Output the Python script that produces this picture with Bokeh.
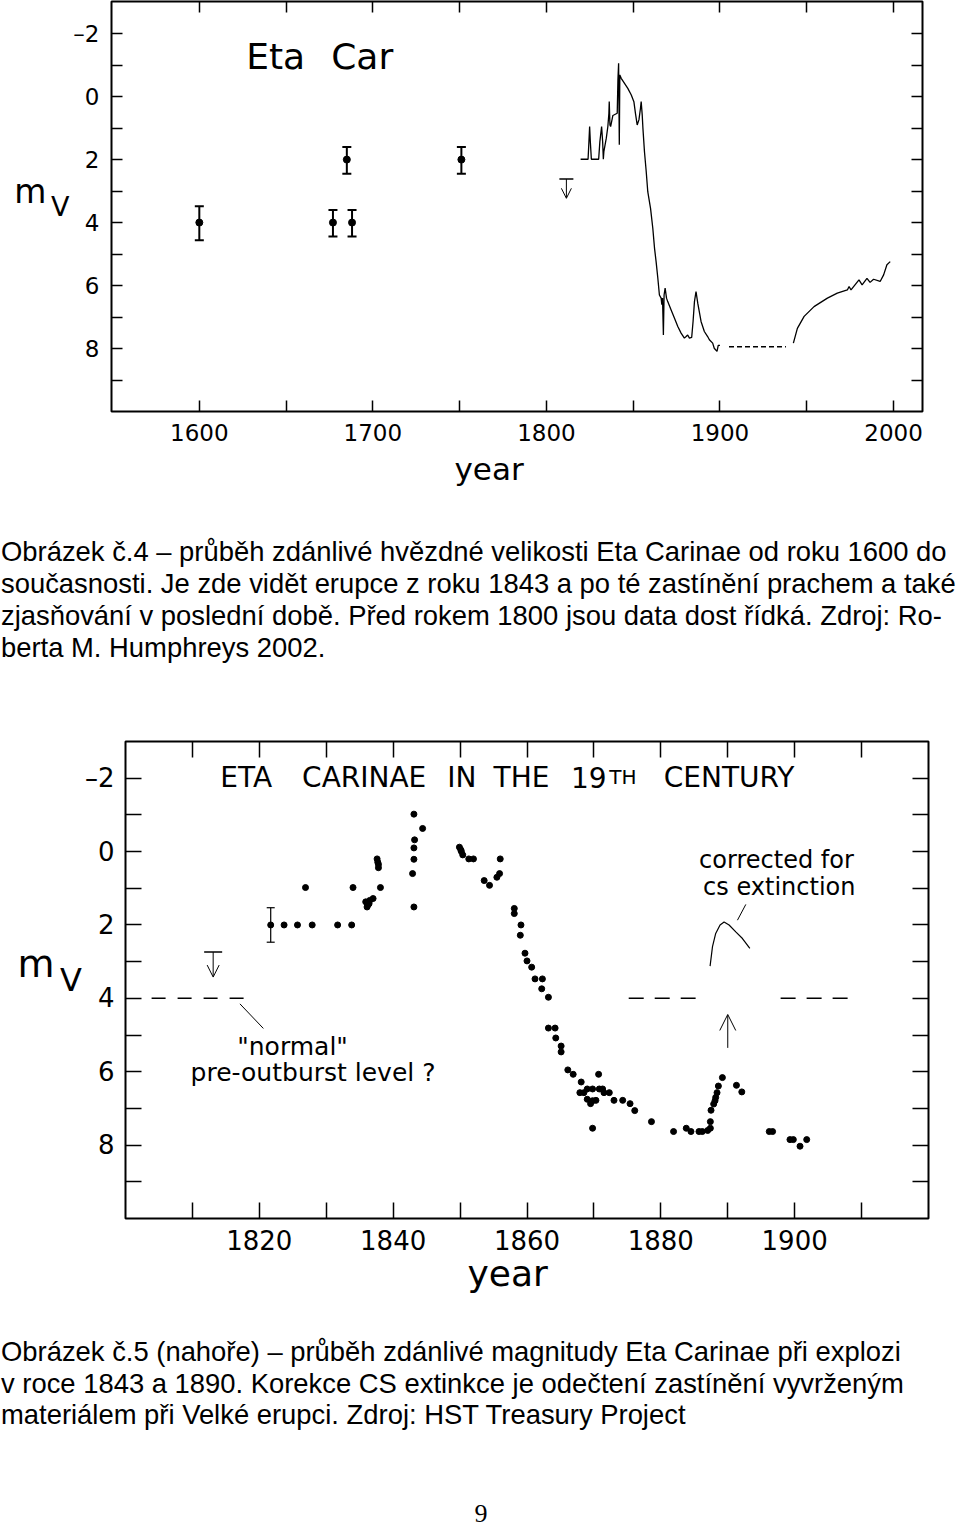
from bokeh.plotting import figure
from bokeh.models import (Range1d, FixedTicker, LinearAxis, Label, Whisker, TeeHead,
                          OpenHead, Arrow, ColumnDataSource, Div, Title)
from bokeh.layouts import column
from bokeh.embed import file_html
from bokeh.resources import INLINE

FONT = "DejaVu Sans"

# ---------------- Figure 4 : 1600 - present ----------------
hist_year = [1600, 1677, 1685, 1688, 1751]
hist_mag = [4.0, 4.0, 2.0, 4.0, 2.0]
hist_lo = [3.48, 3.6, 1.6, 3.6, 1.6]
hist_hi = [4.56, 4.44, 2.45, 4.44, 2.45]

limit1_year = [1811.5]
limit1_mag = [2.62]
limit1_tip = [3.23]

curve_year = [1819.7, 1824.0, 1824.5, 1824.9, 1825.3, 1825.9, 1830.1, 1830.8, 1831.8, 1832.4,
              1832.8, 1833.1, 1834.5, 1835.4, 1836.0, 1836.2, 1836.6, 1837.0, 1838.3, 1840.8,
              1841.2, 1841.6, 1842.0, 1842.3, 1843.1, 1845.0, 1846.9, 1848.9, 1850.4, 1851.3,
              1852.3, 1853.3, 1854.2, 1854.6, 1855.2, 1855.6, 1856.5, 1857.5, 1858.4, 1860.0,
              1861.3, 1862.3, 1863.2, 1864.2, 1865.1, 1866.1, 1866.5, 1866.9, 1867.4, 1867.8,
              1868.4, 1869.2, 1869.9, 1871.8, 1873.8, 1875.7, 1877.6, 1879.5, 1880.5, 1881.4,
              1882.4, 1883.7, 1884.5, 1885.3, 1886.2, 1887.2, 1889.1, 1891.0, 1892.9, 1893.9,
              1895.8, 1896.7, 1898.3, 1899.0, 1900.0]
curve_mag = [1.99, 1.99, 1.43, 0.95, 1.43, 1.99, 1.99, 1.43, 0.95, 1.43,
             1.99, 1.75, 1.32, 0.95, 0.53, 0.16, 0.90, 0.95, 0.60, 0.53,
             -0.53, -1.06, 1.53, -0.69, -0.58, -0.42, -0.26, -0.05, 0.16, 0.53,
             0.90, 0.74, 0.37, 0.16, 0.58, 1.0, 1.75, 2.38, 3.02, 3.55,
             4.18, 4.82, 5.24, 5.77, 6.30, 6.40, 6.61, 6.40, 7.57, 6.30,
             6.08, 6.40, 6.51, 6.77, 7.04, 7.30, 7.51, 7.67, 7.62, 7.57,
             7.67, 7.65, 7.14, 6.51, 6.19, 6.56, 7.14, 7.46, 7.62, 7.72,
             7.83, 7.99, 8.09, 7.90, 7.90]

gap_year = [1905.2, 1938.0]
gap_mag = [7.94, 7.94]

recent_year = [1942.3, 1944.6, 1948.5, 1954.2, 1961.9, 1967.6, 1973.4, 1974.4, 1975.5, 1980.1,
               1981.9, 1984.7, 1986.5, 1988.5, 1992.3, 1994.3, 1996.2, 1998.1]
recent_mag = [7.83, 7.36, 6.98, 6.67, 6.40, 6.24, 6.14, 6.03, 6.14, 5.82,
              5.98, 5.77, 5.90, 5.80, 5.87, 5.66, 5.34, 5.24]

x1_ticks = [1600, 1700, 1800, 1900, 2000]
x1_minor = [1650, 1750, 1850, 1950]
y_ticks = [-2, 0, 2, 4, 6, 8]
y_minor = [-1, 1, 3, 5, 7, 9]

# ---------------- Figure 5 : 19th century ----------------
err2_year = [1821.7]
err2_mag = [2.0]
err2_lo = [1.53]
err2_hi = [2.47]

pts2_year = [1823.7, 1825.7, 1827.9, 1831.7, 1833.8, 1826.9, 1834.0, 1838.1,
             1835.9, 1836.2, 1836.5, 1837.0, 1836.1, 1836.4, 1837.6, 1837.7, 1837.8, 1837.8,
             1843.1, 1844.4, 1843.2, 1843.1, 1843.1, 1842.9, 1843.1,
             1849.9, 1850.1, 1850.2, 1850.4, 1851.3, 1852.0, 1856.0,
             1853.6, 1854.4, 1855.5, 1855.9,
             1858.1, 1858.1, 1859.1, 1859.0, 1859.7, 1860.0, 1860.7, 1861.2, 1862.3, 1862.2, 1863.2,
             1863.2, 1864.2, 1864.3, 1865.1, 1865.1,
             1866.1, 1866.9, 1868.1, 1867.9, 1868.5, 1869.0, 1869.8, 1870.8, 1871.3, 1870.7,
             1869.0, 1869.5, 1869.8, 1870.3, 1869.8,
             1871.5, 1872.3, 1873.0, 1874.3, 1875.4, 1876.1, 1878.6, 1881.9,
             1883.8, 1884.5, 1885.7, 1886.2, 1887.0, 1887.4, 1887.4,
             1887.5, 1887.9, 1888.1, 1888.2, 1888.4, 1888.6, 1889.2,
             1891.3, 1892.1,
             1896.2, 1896.7, 1899.3, 1899.8, 1900.8, 1901.8]
pts2_mag = [2.0, 2.0, 2.0, 2.0, 2.0, 0.98, 0.98, 0.98,
            1.37, 1.46, 1.33, 1.28, 1.51, 1.42, 0.2, 0.29, 0.35, 0.44,
            -1.02, -0.63, -0.32, -0.1, 0.21, 0.6, 1.51,
            -0.12, -0.05, 0.0, 0.09, 0.2, 0.2, 0.2,
            0.79, 0.92, 0.7, 0.6,
            1.55, 1.69, 2.0, 2.28, 2.77, 2.98, 3.15, 3.47, 3.47, 3.74, 3.97,
            4.81, 4.81, 5.08, 5.3, 5.46,
            5.95, 6.07, 6.28, 6.57, 6.57, 6.47, 6.47, 6.47, 6.47, 6.07,
            6.75, 6.87, 6.79, 6.78, 7.54,
            6.57, 6.57, 6.78, 6.78, 6.87, 7.06, 7.36, 7.63,
            7.54, 7.63, 7.63, 7.63, 7.6, 7.54, 7.36,
            7.05, 6.88, 6.79, 6.7, 6.57, 6.39, 6.16,
            6.37, 6.55,
            7.63, 7.63, 7.85, 7.85, 8.03, 7.85]

limit2_year = [1813.1]
limit2_mag = [2.74]
limit2_tip = [3.42]

normal_level = 4.0
normal_left = [1803.9, 1817.8]
normal_mid = [1875.2, 1885.2]
normal_right = [1897.9, 1908.1]
normal_pointer_year = [1817.1, 1820.6]
normal_pointer_mag = [4.15, 4.82]

corr_year = [1887.36, 1887.72, 1888.2, 1888.85, 1889.45, 1890.2, 1891.2, 1892.2, 1893.3]
corr_mag = [3.12, 2.59, 2.23, 2.0, 1.92, 2.0, 2.19, 2.37, 2.64]
corr_pointer_year = [1891.45, 1892.7]
corr_pointer_mag = [1.87, 1.44]
up_arrow_year = [1890.0]
up_arrow_from = [5.35]
up_arrow_to = [4.44]

x2_ticks = [1820, 1840, 1860, 1880, 1900]
x2_minor = [1810, 1830, 1850, 1870, 1890, 1910]

caption1 = ["Obrázek č.4 – průběh zdánlivé hvězdné velikosti Eta Carinae od roku 1600 do",
            "současnosti. Je zde vidět erupce z roku 1843 a po té zastínění prachem a také",
            "zjasňování v poslední době. Před rokem 1800 jsou data dost řídká. Zdroj: Ro-",
            "berta M. Humphreys 2002."]
caption2 = ["Obrázek č.5 (nahoře) – průběh zdánlivé magnitudy Eta Carinae při explozi",
            "v roce 1843 a 1890. Korekce CS extinkce je odečtení zastínění vyvrženým",
            "materiálem při Velké erupci. Zdroj: HST Treasury Project"]
page_number = "9"


def make_fig(width, height, xr, yr, borders, xt, xm, tick_len, lab_size, standoff,
             v_size, v_standoff, m_size, m_standoff, year_size, year_offset, year_standoff):
    left, right, top, bottom = borders
    p = figure(width=width, height=height, x_range=Range1d(*xr), y_range=Range1d(*yr),
               output_backend="svg", toolbar_location=None,
               x_axis_location=None, y_axis_location=None,
               min_border_left=left, min_border_right=right,
               min_border_top=top, min_border_bottom=bottom)
    p.grid.visible = False
    p.outline_line_color = "black"
    p.outline_line_width = 2
    p.background_fill_color = "white"
    p.border_fill_color = "white"
    for side in ["below", "above", "left", "right"]:
        if side in ("below", "above"):
            tk = FixedTicker(ticks=xt, minor_ticks=xm)
        else:
            tk = FixedTicker(ticks=y_ticks, minor_ticks=y_minor)
        ax = LinearAxis(ticker=tk)
        ax.axis_line_color = None
        ax.major_tick_in = tick_len
        ax.major_tick_out = 0
        ax.minor_tick_in = tick_len
        ax.minor_tick_out = 0
        ax.major_tick_line_width = 1.5
        ax.minor_tick_line_width = 1.5
        ax.major_tick_line_color = "black"
        ax.minor_tick_line_color = "black"
        ax.major_label_text_font = FONT
        if side in ("below", "left"):
            ax.major_label_text_color = "black"
            ax.major_label_overrides = {-2: "–2"}
            ax.major_label_text_font_size = lab_size
            ax.major_label_standoff = standoff
        else:
            ax.major_label_text_color = None
            ax.major_label_text_font_size = "1px"
            ax.major_label_standoff = 0
        if side == "left":
            ax.axis_label = "V"
            ax.axis_label_orientation = "horizontal"
            ax.axis_label_text_font = FONT
            ax.axis_label_text_font_style = "normal"
            ax.axis_label_text_font_size = v_size
            ax.axis_label_text_color = "black"
            ax.axis_label_standoff = v_standoff
        p.add_layout(ax, side)
    # outer left axis carrying the "m" of m_V (raised by an empty second line)
    mx = LinearAxis(ticker=FixedTicker(ticks=[]))
    mx.axis_line_color = None
    mx.major_tick_line_color = None
    mx.minor_tick_line_color = None
    mx.major_label_text_color = None
    mx.major_label_text_font_size = "1px"
    mx.major_label_standoff = 0
    mx.major_tick_out = 0
    mx.major_tick_in = 0
    mx.axis_label = "m\n"
    mx.axis_label_orientation = "horizontal"
    mx.axis_label_text_font = FONT
    mx.axis_label_text_font_style = "normal"
    mx.axis_label_text_font_size = m_size
    mx.axis_label_text_color = "black"
    mx.axis_label_text_line_height = 0.75
    mx.axis_label_standoff = m_standoff
    p.add_layout(mx, "left")
    # x axis title "year"
    p.add_layout(Title(text="year", align="left", offset=year_offset, standoff=year_standoff,
                       vertical_align="top", text_font=FONT, text_font_style="normal",
                       text_font_size=year_size, text_color="black"), "below")
    return p


def lab(p, x, y, text, size, font=FONT):
    p.add_layout(Label(x=x, y=y, text=text, text_font=font, text_font_size=size,
                       text_color="black", text_align="left", text_baseline="alphabetic"))


# ---------- figure 1 ----------
p1 = make_fig(954, 500, (1549.4, 2016.7), (10.0, -3.02), (109, 32, 1, 89),
              x1_ticks, x1_minor, 11, "23px", 12,
              "27px", 1, "33px", 1, "31px", 343, 14)

hist_src = ColumnDataSource(dict(x=hist_year, y=hist_mag, lo=hist_lo, hi=hist_hi))
p1.add_layout(Whisker(source=hist_src, base="x", upper="hi", lower="lo", dimension="height",
                      line_color="black", line_width=2,
                      upper_head=TeeHead(size=9, line_width=2, line_color="black"),
                      lower_head=TeeHead(size=9, line_width=2, line_color="black")))
p1.scatter("x", "y", source=hist_src, size=7, color="black")

p1.add_layout(Arrow(x_start=limit1_year[0], y_start=limit1_mag[0],
                    x_end=limit1_year[0], y_end=limit1_tip[0], line_width=1,
                    start=TeeHead(size=14, line_width=1.5),
                    end=OpenHead(size=10, line_width=1)))

p1.line(curve_year, curve_mag, line_color="black", line_width=1.3)
p1.line(gap_year, gap_mag, line_color="black", line_width=1.5, line_dash="5 3")
p1.line(recent_year, recent_mag, line_color="black", line_width=1.3)

lab(p1, 1627.0, -1.27, "Eta", "36px")
lab(p1, 1676.0, -1.27, "Car", "36px")


# ---------- captions ----------
def caption_div(lines, tops, height, extra=""):
    parts = []
    for line, t in zip(lines, tops):
        parts.append(f'<div style="position:absolute;left:1px;top:{t}px;white-space:nowrap;'
                     f'line-height:32px;">{line}</div>')
    html = ('<div style="position:relative;width:960px;height:%dpx;'
            'font-family:\'Liberation Sans\',Arial,sans-serif;font-size:27.4px;color:#000;">%s%s</div>'
            % (height, "".join(parts), extra))
    return Div(text=html, width=960, height=height, margin=0)


div1 = caption_div(caption1, [36, 68, 100, 132], 220)

# ---------- figure 2 ----------
p2 = make_fig(946, 585, (1800, 1920), (10, -3), (109, 32, 21, 87),
              x2_ticks, x2_minor, 16, "26px", 11,
              "32px", 0, "38px", 3, "36px", 342, 0)
p2.margin = (0, 0, 0, 14)

err2_src = ColumnDataSource(dict(x=err2_year, y=err2_mag, lo=err2_lo, hi=err2_hi))
p2.add_layout(Whisker(source=err2_src, base="x", upper="hi", lower="lo", dimension="height",
                      line_color="black", line_width=1.2,
                      upper_head=TeeHead(size=8, line_width=1.2, line_color="black"),
                      lower_head=TeeHead(size=8, line_width=1.2, line_color="black")))
p2.scatter(err2_year, err2_mag, size=6, color="black")
p2.scatter(pts2_year, pts2_mag, size=6, color="black")

p2.add_layout(Arrow(x_start=limit2_year[0], y_start=limit2_mag[0],
                    x_end=limit2_year[0], y_end=limit2_tip[0], line_width=1,
                    start=TeeHead(size=18, line_width=1.5),
                    end=OpenHead(size=12, line_width=1)))

for seg, dash in ((normal_left, "14 12"), (normal_mid, "15 11"), (normal_right, "15 11")):
    p2.line(seg, [normal_level, normal_level], line_color="black", line_width=1.5, line_dash=dash)
p2.line(normal_pointer_year, normal_pointer_mag, line_color="black", line_width=1)

p2.line(corr_year, corr_mag, line_color="black", line_width=1.2)
p2.line(corr_pointer_year, corr_pointer_mag, line_color="black", line_width=1)
p2.add_layout(Arrow(x_start=up_arrow_year[0], y_start=up_arrow_from[0],
                    x_end=up_arrow_year[0], y_end=up_arrow_to[0], line_width=1,
                    end=OpenHead(size=16, line_width=1)))

title_words = [("ETA", 1814.16, "28px"), ("CARINAE", 1826.39, "28px"), ("IN", 1848.09, "28px"),
               ("THE", 1855.01, "28px"), ("19", 1866.58, "28px"), ("TH", 1872.30, "20px"),
               ("CENTURY", 1880.44, "28px")]
for w, x, s in title_words:
    lab(p2, x, -2.03, w, s)

lab(p2, 1885.72, 0.216, "corrected for", "24px")
lab(p2, 1886.32, 0.952, "cs extinction", "24px")
lab(p2, 1816.70, 5.305, "\"normal\"", "25px")
lab(p2, 1809.73, 6.02, "pre-outburst level ?", "25px")

page_html = ('<div style="position:absolute;left:0;top:199px;width:962px;text-align:center;'
             'font-family:\'Liberation Serif\',\'Times New Roman\',serif;font-size:26px;'
             'line-height:20px;">%s</div>' % page_number)
div2 = caption_div(caption2, [31, 63, 94], 220, page_html)

layout = column(p1, div1, p2, div2, spacing=0)
open("out.html", "w").write(file_html(layout, INLINE))
